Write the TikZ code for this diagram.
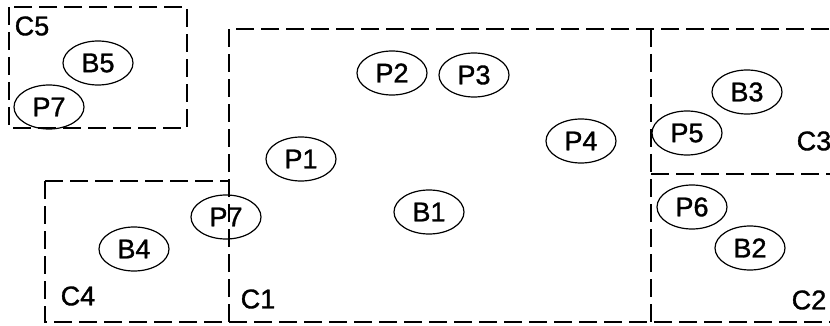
\documentclass[tikz,border=0pt]{standalone}
\usepackage{fontspec}
\setmainfont{Liberation Sans}[FakeBold=1.2]
\usetikzlibrary{shapes.geometric}
\begin{document}
\begin{tikzpicture}[x=1pt,y=-1pt,
  region/.style={line width=1.2pt, dash pattern=on 18pt off 7pt},
  item/.style={draw, ellipse, line width=1.2pt, minimum width=70pt,
    minimum height=44pt, inner sep=0pt, font=\fontsize{27}{31}\selectfont},
  tag/.style={inner sep=0pt, font=\fontsize{27}{31}\selectfont}]
\useasboundingbox (0,0) rectangle (830,326);

% cell boundaries
\draw[region] (9,7) rectangle (187,128);
\draw[region] (229,322) -- (229,29) -- (830,29);
\draw[region] (651,29) -- (651,322);
\draw[region] (651,174) -- (830,174);
\draw[region] (45,181) -- (229,181);
\draw[region] (45,181) -- (45,322) -- (830,322);

% cell names
\node[tag] (c5) at (32,26) {C5};
\node[tag] (c1) at (258,299) {C1};
\node[tag] (c4) at (78,296) {C4};
\node[tag] (c3) at (814,141) {C3};
\node[tag] (c2) at (809,300) {C2};

% items
\node[item] (b5)  at (98,63)   {B5};
\node[item] (p7a) at (49,107)  {P7};
\node[item] (p2)  at (392,73)  {P2};
\node[item] (p3)  at (474,75)  {P3};
\node[item] (p1)  at (301,159) {P1};
\node[item] (p4)  at (581,141) {P4};
\node[item] (b1)  at (429,212) {B1};
\node[item] (p7b) at (226,217) {P7};
\node[item] (b3)  at (747,92)  {B3};
\node[item] (p5)  at (687,133) {P5};
\node[item] (p6)  at (692,207) {P6};
\node[item] (b2)  at (750,248) {B2};
\node[item] (b4)  at (134,249) {B4};
\end{tikzpicture}
\end{document}
